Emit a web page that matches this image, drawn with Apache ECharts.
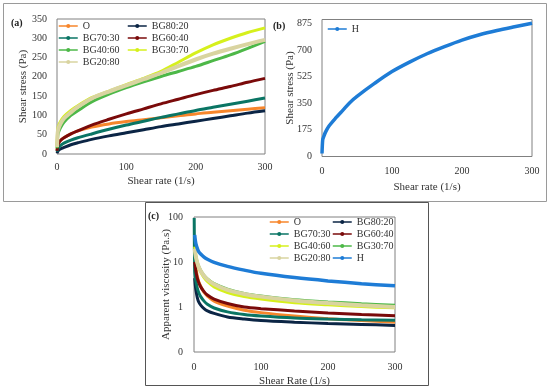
<!DOCTYPE html>
<html><head><meta charset="utf-8">
<script src="https://cdn.jsdelivr.net/npm/echarts@6/dist/echarts.min.js"></script>
<style>html,body{margin:0;padding:0;background:#fff}#c{width:550px;height:390px}</style>
</head><body><div id="c"></div>
<script>
// ---- Panel (a): shear stress (Pa) vs shear rate (1/s)
const rateA = [0, 1, 2, 5, 10, 20, 30, 50, 75, 100, 125, 150, 175, 200, 225, 250, 275, 300];
const stressO      = [10, 22, 28, 35, 42, 52, 60, 70, 78, 84, 89, 94, 99, 104, 108, 112, 116, 120];
const stressBG8020 = [2, 6, 9, 13, 17, 24, 29, 38, 47, 55, 63, 71, 78, 85, 92, 99, 106, 112];
const stressBG7030 = [6, 12, 16, 22, 28, 36, 42, 52, 64, 75, 85, 95, 104, 113, 121, 129, 137, 145];
const stressBG6040 = [8, 20, 27, 35, 42, 52, 60, 75, 90, 104, 117, 130, 142, 154, 165, 175, 186, 196];
const stressBG4060 = [15, 45, 55, 68, 82, 100, 112, 135, 155, 172, 187, 201, 214, 227, 242, 257, 274, 292];
const stressBG3070 = [20, 62, 72, 84, 97, 113, 125, 146, 163, 180, 196, 214, 238, 262, 283, 300, 315, 327];
const stressBG2080 = [18, 55, 65, 78, 92, 108, 122, 144, 162, 178, 194, 210, 228, 245, 260, 273, 285, 296];

// ---- Panel (b): sample H
const rateB = [0, 1, 2, 5, 10, 20, 30, 40, 50, 75, 100, 125, 150, 175, 200, 225, 250, 275, 300];
const stressH = [20, 110, 125, 160, 200, 255, 305, 355, 395, 480, 558, 620, 675, 722, 765, 800, 828, 852, 875];

// ---- Panel (c): apparent viscosity (Pa.s) vs shear rate (1/s)
const rateC = [0.3, 1, 2, 3, 5, 7, 10, 15, 20, 30, 50, 75, 100, 150, 200, 250, 300];
const viscO      = [null, 13, 9, 7, 4.8, 3.7, 2.9, 2.1, 1.75, 1.35, 1.05, 0.85, 0.75, 0.63, 0.55, 0.5, 0.46];
const viscBG8020 = [null, 4.4, 3.0, 2.3, 1.6, 1.3, 1.1, 0.92, 0.82, 0.72, 0.6, 0.54, 0.5, 0.46, 0.43, 0.41, 0.39];
const viscBG7030 = [95, 6.5, 4.5, 3.6, 2.6, 2.1, 1.7, 1.35, 1.15, 0.95, 0.78, 0.68, 0.63, 0.57, 0.54, 0.52, 0.51];
const viscBG6040 = [null, 10, 7.5, 6, 4.3, 3.5, 2.8, 2.2, 1.85, 1.5, 1.2, 1.0, 0.92, 0.82, 0.74, 0.68, 0.64];
const viscBG4060 = [null, 22, 16, 13, 9.5, 7.5, 6, 4.5, 3.7, 2.8, 2.1, 1.7, 1.5, 1.25, 1.12, 1.02, 0.96];
const viscBG3070 = [null, 19, 15, 12.5, 9.5, 8, 6.5, 5, 4.2, 3.3, 2.5, 2.0, 1.75, 1.45, 1.3, 1.18, 1.1];
const viscBG2080 = [null, 20, 15.5, 12.5, 9.5, 7.8, 6.3, 4.9, 4.1, 3.2, 2.4, 1.95, 1.7, 1.4, 1.22, 1.1, 1.0];
const viscH      = [null, 40, 30, 25, 20, 17, 15, 12.8, 11.5, 9.8, 8, 6.6, 5.6, 4.5, 3.8, 3.3, 2.95];

const col = {
  'O': '#F7862B', 'BG80:20': '#0B2545', 'BG70:30': '#0A7564', 'BG60:40': '#7A0A0A',
  'G': '#4DB848', 'Y': '#D6F01C', 'BG20:80': '#D9D4A0', 'H': '#1E7CD6'
};
const FONT = 'Liberation Serif';
const TXT = '#333';

function pairs(xs, ys) { return xs.map((x, i) => [x, ys[i]]); }
function line(name, xs, ys, color, gi, w) {
  return {
    type: 'line', name: name, xAxisIndex: gi, yAxisIndex: gi,
    data: pairs(xs, ys), color: color, smooth: 0.3,
    symbol: 'circle', symbolSize: 4, showSymbol: false,
    lineStyle: { width: w || 3, color: color }, itemStyle: { color: color },
    animation: false
  };
}
function xAx(gi, gap, margin) {
  return {
    type: 'value', gridIndex: gi, min: 0, max: 300, interval: 100,
    name: gi === 2 ? 'Shear Rate (1/s)' : 'Shear rate (1/s)',
    nameLocation: 'middle', nameGap: gap, nameMoveOverlap: false,
    nameTextStyle: { fontFamily: FONT, fontSize: 11, color: TXT },
    axisLine: { show: false }, axisTick: { show: false }, splitLine: { show: false },
    axisLabel: { fontFamily: FONT, fontSize: 10, color: TXT, margin: margin }
  };
}
function yName(name, gap) {
  return { name: name, nameLocation: 'middle', nameGap: gap, nameMoveOverlap: false,
    nameTextStyle: { fontFamily: FONT, fontSize: 11, color: TXT },
    axisLine: { show: false }, axisTick: { show: false }, splitLine: { show: false } };
}
const legendText = { fontFamily: FONT, fontSize: 10, color: TXT, lineHeight: 12 };
function leg(left, top, data) {
  return {
    left: left, top: top, orient: 'vertical', itemWidth: 19, itemHeight: 5, itemGap: 0,
    data: data, textStyle: legendText, selectedMode: false, padding: 0,
    lineStyle: { width: 1.5 }, itemStyle: { borderWidth: 0 },
    formatter: n => n.replace(/^c\|/, '')
  };
}

const option = {
  animation: false,
  backgroundColor: '#fff',
  grid: [
    { left: 57, top: 19, width: 208, height: 135, show: true, borderColor: '#808080', borderWidth: 1 },
    { left: 322, top: 19.5, width: 210, height: 137, show: true, borderColor: '#808080', borderWidth: 1 },
    { left: 194, top: 217, width: 201, height: 135, show: true, borderColor: '#808080', borderWidth: 1 }
  ],
  xAxis: [xAx(0, 22, 8), xAx(1, 25, 10), xAx(2, 24, 10)],
  yAxis: [
    Object.assign(yName('Shear stress (Pa)', 28), { type: 'value', gridIndex: 0, min: 0, max: 350, interval: 50,
      axisLabel: { fontFamily: FONT, fontSize: 10, color: TXT, margin: 10 } }),
    Object.assign(yName('Shear stress (Pa)', 26), { type: 'value', gridIndex: 1, min: 0, max: 900, interval: 175,
      axisLabel: { fontFamily: FONT, fontSize: 10, color: TXT, margin: 10, showMaxLabel: false } }),
    Object.assign(yName('Apparent viscosity (Pa.s)', 22), { type: 'log', logBase: 10, gridIndex: 2, min: 0.1, max: 100,
      axisLabel: { fontFamily: FONT, fontSize: 10, color: TXT, margin: 11,
        formatter: v => (v < 1 ? '0' : String(Math.round(v))) } })
  ],
  legend: [
    leg(58, 20, ['O', 'BG70:30', 'BG40:60', 'BG20:80']),
    leg(127, 20, ['BG80:20', 'BG60:40', 'BG30:70']),
    leg(327, 23, ['H']),
    leg(269, 216, ['c|O', 'c|BG70:30', 'c|BG40:60', 'c|BG20:80']),
    leg(332, 216, ['c|BG80:20', 'c|BG60:40', 'c|BG30:70', 'c|H'])
  ],
  graphic: [
    { type: 'rect', shape: { x: 3.5, y: 3.5, width: 543, height: 198 }, style: { fill: 'none', stroke: '#9a9a9a', lineWidth: 1 }, silent: true },
    { type: 'rect', shape: { x: 145.5, y: 202.5, width: 283, height: 183 }, style: { fill: 'none', stroke: '#555', lineWidth: 1 }, silent: true },
    { type: 'text', left: 11, top: 18, style: { text: '(a)', font: 'bold 10px "Liberation Serif"', fill: '#222' } },
    { type: 'text', left: 273, top: 21, style: { text: '(b)', font: 'bold 10px "Liberation Serif"', fill: '#222' } },
    { type: 'text', left: 148, top: 211, style: { text: '(c)', font: 'bold 10px "Liberation Serif"', fill: '#222' } }
  ],
  series: [
    line('O', rateA, stressO, col['O'], 0),
    line('BG80:20', rateA, stressBG8020, col['BG80:20'], 0),
    line('BG70:30', rateA, stressBG7030, col['BG70:30'], 0),
    line('BG60:40', rateA, stressBG6040, col['BG60:40'], 0),
    line('BG40:60', rateA, stressBG4060, col['G'], 0),
    line('BG30:70', rateA, stressBG3070, col['Y'], 0),
    line('BG20:80', rateA, stressBG2080, col['BG20:80'], 0, 4),
    line('H', rateB, stressH, col['H'], 1, 3.5),
    line('c|O', rateC, viscO, col['O'], 2),
    line('c|BG80:20', rateC, viscBG8020, col['BG80:20'], 2),
    line('c|BG70:30', rateC, viscBG7030, col['BG70:30'], 2),
    line('c|BG60:40', rateC, viscBG6040, col['BG60:40'], 2),
    line('c|BG40:60', rateC, viscBG4060, col['Y'], 2),
    line('c|BG30:70', rateC, viscBG3070, col['G'], 2),
    line('c|BG20:80', rateC, viscBG2080, col['BG20:80'], 2, 4),
    line('c|H', rateC, viscH, col['H'], 2, 3.5)
  ]
};
const chart = echarts.init(document.getElementById('c'), null, { renderer: 'canvas' });
chart.setOption(option);
</script></body></html>
